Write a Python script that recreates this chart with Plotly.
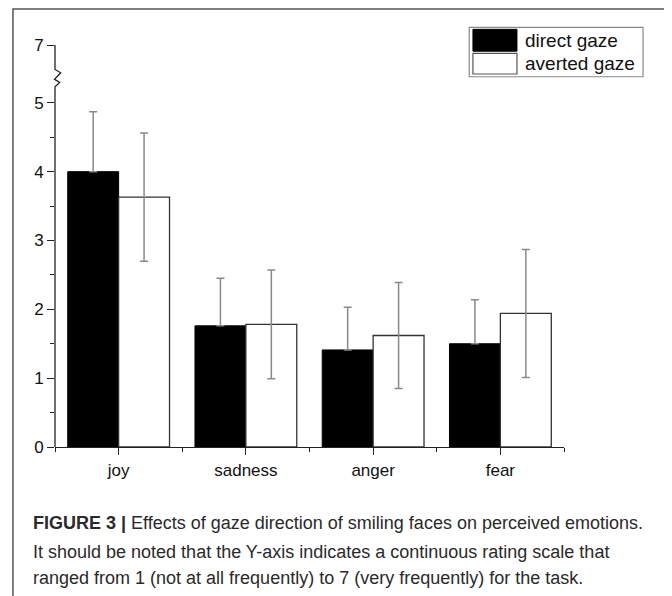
import plotly.graph_objects as go

categories = ["joy", "sadness", "anger", "fear"]
direct_mean = [4.00, 1.76, 1.41, 1.50]
direct_err = [0.87, 0.69, 0.62, 0.64]
averted_mean = [3.63, 1.78, 1.62, 1.94]
averted_err = [0.93, 0.79, 0.77, 0.93]
series_names = ["direct gaze", "averted gaze"]
ytick_vals = [0, 1, 2, 3, 4, 5, 5.84]
ytick_text = ["0", "1", "2", "3", "4", "5", "7"]
caption_lines = [
    "<b>FIGURE 3 |</b> Effects of gaze direction of smiling faces on perceived emotions.",
    "It should be noted that the Y-axis indicates a continuous rating scale that",
    "ranged from 1 (not at all frequently) to 7 (very frequently) for the task.",
]

xpos = list(range(len(categories)))
FONT = "Liberation Sans, Arial, sans-serif"
ERRC = "#8a8a8a"

fig = go.Figure()
fig.add_trace(go.Bar(
    x=xpos, y=direct_mean, name=series_names[0],
    marker=dict(color="black", line=dict(color="black", width=1)),
    error_y=dict(type="data", symmetric=False, array=direct_err,
                 arrayminus=[0] * len(direct_err),
                 color=ERRC, thickness=1.5, width=4),
    showlegend=False,
))
fig.add_trace(go.Bar(
    x=xpos, y=averted_mean, name=series_names[1],
    marker=dict(color="white", line=dict(color="#333333", width=1.3)),
    error_y=dict(type="data", array=averted_err,
                 color=ERRC, thickness=1.5, width=4),
    showlegend=False,
))

fig.update_layout(
    width=664, height=588,
    margin=dict(l=47, r=108.3, t=37, b=149.3),
    paper_bgcolor="white", plot_bgcolor="white",
    barmode="group", bargap=0.2, bargroupgap=0,
    font=dict(family=FONT, color="#111111"),
)

fig.update_xaxes(
    range=[-0.5, 3.5], tickmode="array", tickvals=xpos, ticktext=categories,
    showgrid=False, zeroline=False, showline=True, linecolor="#222222", linewidth=1.3,
    ticks="outside", ticklen=7, tickwidth=1.3, tickcolor="#222222",
    tickfont=dict(size=17, family=FONT, color="#111111"),
    minor=dict(tickmode="array", tickvals=[-0.5, 0.5, 1.5, 2.5, 3.5],
               ticks="outside", ticklen=4, tickwidth=1.3, tickcolor="#222222", showgrid=False),
)
fig.update_yaxes(
    range=[0, 5.84], tickmode="array", tickvals=ytick_vals, ticktext=ytick_text,
    showgrid=False, zeroline=False, showline=False,
    ticks="outside", ticklen=7, tickwidth=1.3, tickcolor="#222222",
    tickfont=dict(size=17, family=FONT, color="#111111"),
    minor=dict(tickmode="array", tickvals=[0.5, 1.5, 2.5, 3.5, 4.5],
               ticks="outside", ticklen=4, tickwidth=1.3, tickcolor="#222222", showgrid=False),
)

shapes = []
# y axis line with break zigzag
shapes.append(dict(
    type="path", xref="paper", yref="y",
    path="M 0,0 L 0,5.233 L 0.0092,5.297 L -0.001,5.34 L 0.0112,5.436 L 0,5.485 L 0,5.84",
    line=dict(color="#222222", width=1.3),
))
# outer frame
shapes.append(dict(type="rect", xref="paper", yref="paper",
                   x0=-0.0826, x1=1.2105, y0=-0.42, y1=1.0896,
                   line=dict(color="#555555", width=1.5), fillcolor="rgba(0,0,0,0)"))
# legend box
shapes.append(dict(type="rect", xref="paper", yref="paper",
                   x0=0.8138, x1=1.1553, y0=0.921, y1=1.044,
                   line=dict(color="#8a8a8a", width=1.2), fillcolor="white", layer="below"))
shapes.append(dict(type="rect", xref="paper", yref="paper",
                   x0=0.8211, x1=0.9076, y0=0.9846, y1=1.039,
                   line=dict(color="black", width=1), fillcolor="black"))
shapes.append(dict(type="rect", xref="paper", yref="paper",
                   x0=0.8211, x1=0.9076, y0=0.9278, y1=0.9793,
                   line=dict(color="#555555", width=1.2), fillcolor="white"))
fig.update_layout(shapes=shapes)

annotations = [
    dict(x=0.9194, y=1.0112, xref="paper", yref="paper", text=series_names[0],
         showarrow=False, xanchor="left", yanchor="middle",
         font=dict(size=19, family=FONT, color="#111111")),
    dict(x=0.9194, y=0.954, xref="paper", yref="paper", text=series_names[1],
         showarrow=False, xanchor="left", yanchor="middle",
         font=dict(size=19, family=FONT, color="#111111")),
]
cap_y = [-0.19, -0.2614, -0.3269]
for line, yy in zip(caption_lines, cap_y):
    annotations.append(dict(x=-0.0478, y=yy, xref="paper", yref="paper", text=line,
                            showarrow=False, xanchor="left", yanchor="middle",
                            font=dict(size=18, family=FONT, color="#2a2a2a")))
fig.update_layout(annotations=annotations)

fig.write_html("out.html")
